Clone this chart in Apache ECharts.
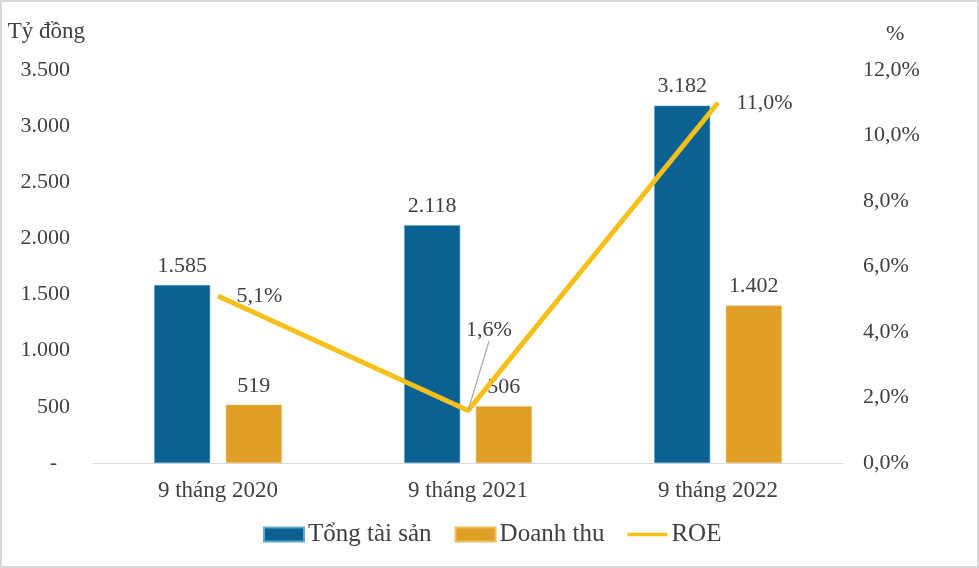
<!DOCTYPE html>
<html>
<head>
<meta charset="utf-8">
<script src="https://cdn.jsdelivr.net/npm/echarts@6/dist/echarts.min.js"></script>
<style>
html,body{margin:0;padding:0;background:#fff;}
#frame{width:979px;height:568px;box-sizing:border-box;border:2px solid #d9d9d9;}
#chart{width:975px;height:564px;}
</style>
</head>
<body>
<div id="frame"><div id="chart"></div></div>
<script>
const categories = ['9 tháng 2020', '9 tháng 2021', '9 tháng 2022'];
const totalAssets = [1585, 2118, 3182];
const revenue = [519, 506, 1402];
const roe = [5.1, 1.6, 11.0];
const roeLabels = ['5,1%', '1,6%', '11,0%'];
const leftTicks = { min: 0, max: 3500, interval: 500 };
const rightTicks = { min: 0, max: 12, interval: 2 };

const FONT = 'Liberation Serif, Times New Roman, serif';
const TXT = '#404040';
const LINE = '#f6c01b';
const fmtThousands = v => String(v).replace(/\B(?=(\d{3})+(?!\d))/g, '.');

const roeData = roe.map((v, i) => i === 1
  ? { value: v, label: { position: 'top' }, labelLine: { show: true } }
  : v);

const chart = echarts.init(document.getElementById('chart'));
chart.setOption({
  animation: false,
  textStyle: { fontFamily: FONT, color: TXT },
  grid: { left: 91, right: 134, top: 68, bottom: 103 },
  legend: {
    bottom: 14, left: 256,
    itemWidth: 40, itemHeight: 14, itemGap: 23,
    textStyle: { fontFamily: FONT, fontSize: 25, color: TXT, padding: [0, 0, 0, -1] },
    data: [
      { name: 'Tổng tài sản', icon: 'rect' },
      { name: 'Doanh thu', icon: 'rect' },
      { name: 'ROE', icon: 'path://M0,0 L44,0 L44,4 L0,4 Z', itemStyle: { color: LINE, opacity: 1 } }
    ]
  },
  xAxis: {
    type: 'category', data: categories,
    axisLine: { show: true, lineStyle: { color: '#d9d9d9', width: 1 } },
    axisTick: { show: false },
    axisLabel: { fontFamily: FONT, fontSize: 23, color: TXT, margin: 16 }
  },
  yAxis: [
    {
      type: 'value', min: leftTicks.min, max: leftTicks.max, interval: leftTicks.interval,
      name: 'Tỷ đồng', nameLocation: 'end', nameGap: 38,
      nameTextStyle: { fontFamily: FONT, fontSize: 23, color: TXT, align: 'right', verticalAlign: 'middle', padding: [0, 8, 0, 0] },
      splitLine: { show: false }, axisLine: { show: false }, axisTick: { show: false },
      axisLabel: {
        fontFamily: FONT, fontSize: 22, color: TXT, margin: 23,
        formatter: v => v === 0 ? '{d|-}' : fmtThousands(v),
        rich: { d: { fontFamily: FONT, fontSize: 22, color: TXT, padding: [0, 13, 0, 0] } }
      }
    },
    {
      type: 'value', min: rightTicks.min, max: rightTicks.max, interval: rightTicks.interval,
      name: '%', nameLocation: 'end', nameGap: 36,
      nameTextStyle: { fontFamily: FONT, fontSize: 22, color: TXT, align: 'left', verticalAlign: 'middle', padding: [0, 0, 0, 43] },
      splitLine: { show: false }, axisLine: { show: false }, axisTick: { show: false },
      axisLabel: {
        fontFamily: FONT, fontSize: 22, color: TXT, margin: 20,
        formatter: v => v.toFixed(1).replace('.', ',') + '%'
      }
    }
  ],
  series: [
    {
      name: 'Tổng tài sản', type: 'bar', data: totalAssets,
      barWidth: 56, barGap: '28%', barCategoryGap: '49%',
      itemStyle: { color: '#0b6192', borderColor: '#5fa8cf', borderWidth: 0.5 },
      label: { show: true, position: 'top', distance: 8, fontFamily: FONT, fontSize: 22, color: TXT, formatter: p => fmtThousands(p.value) }
    },
    {
      name: 'Doanh thu', type: 'bar', data: revenue,
      barWidth: 56,
      itemStyle: { color: '#e09f27', borderColor: '#f0c060', borderWidth: 0.5 },
      label: { show: true, position: 'top', distance: 8, fontFamily: FONT, fontSize: 22, color: TXT, formatter: p => fmtThousands(p.value) }
    },
    {
      name: 'ROE', type: 'line', yAxisIndex: 1, data: roeData,
      symbol: 'circle', symbolSize: 1, showSymbol: true, z: 5,
      lineStyle: { color: LINE, width: 5 },
      itemStyle: { color: 'rgba(0,0,0,0)' },
      label: {
        show: true, position: 'right', distance: 18,
        fontFamily: FONT, fontSize: 22, color: TXT,
        formatter: p => roeLabels[p.dataIndex]
      },
      labelLine: { show: false, lineStyle: { color: '#a6a6a6', width: 1.2 } },
      labelLayout: p => p.dataIndex === 1 ? { dx: 21, dy: -51 } : {}
    }
  ]
});
</script>
</body>
</html>
